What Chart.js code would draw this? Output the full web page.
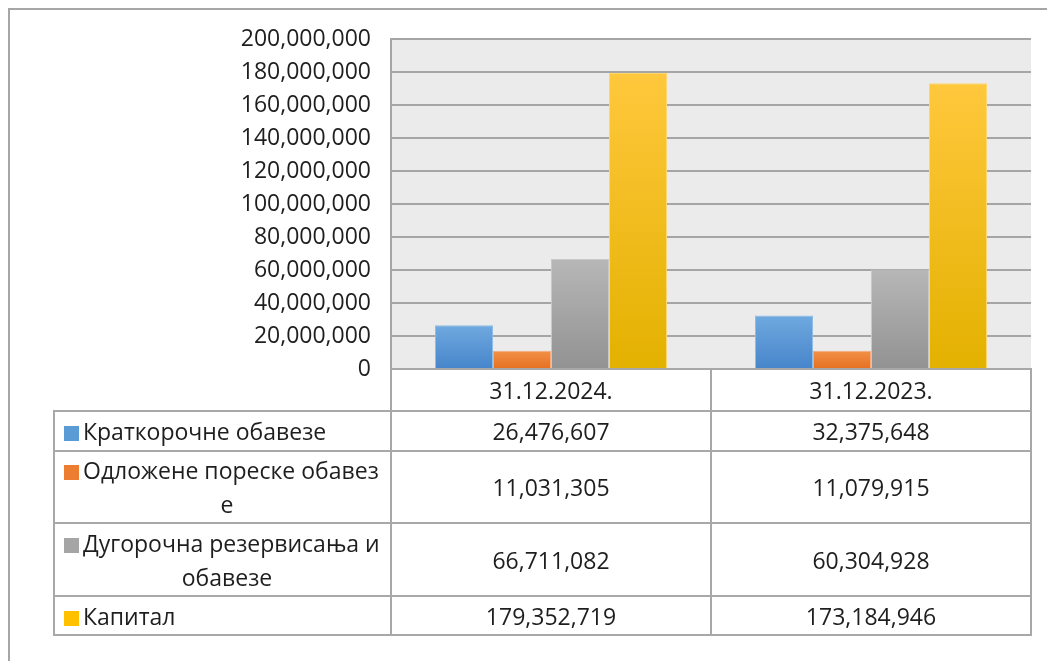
<!DOCTYPE html>
<html>
<head>
<meta charset="utf-8">
<script src="https://cdn.jsdelivr.net/npm/chart.js@4/dist/chart.umd.min.js"></script>
<style>
html,body{margin:0;padding:0;background:#fff;}
#wrap{position:relative;width:1047px;height:661px;overflow:hidden;font-family:"Open Sans",sans-serif;}
#frame{position:absolute;left:8px;top:8px;width:1100px;height:700px;border-left:2px solid #a6a6a6;border-top:2px solid #a6a6a6;box-sizing:border-box;}
#c{position:absolute;left:0;top:0;}
#tbl{position:absolute;border-collapse:collapse;table-layout:fixed;color:#1e1e1e;font-size:23px;}
#tbl td{border:2px solid #a8a8a8;padding:0;text-align:center;vertical-align:middle;white-space:nowrap;line-height:34px;}
#tbl td.empty{border-top:none;border-left:none;}
#tbl td.lab{text-align:left;padding-left:9px;}
#tbl .sw{display:inline-block;width:15px;height:15px;margin-right:4px;vertical-align:-1px;}
#tbl .l2{text-align:center;}
</style>
</head>
<body>
<div id="wrap">
  <div id="frame"></div>
  <canvas id="c" width="1047" height="661"></canvas>
  <table id="tbl"></table>
</div>
<script>
// ---- data ----
const categories = ['31.12.2024.', '31.12.2023.'];
const seriesNames = ['Краткорочне обавезе', 'Одложене пореске обавезе', 'Дугорочна резервисања и обавезе', 'Капитал'];
// how the series names wrap inside the data table
const seriesNameLines = [
  ['Краткорочне обавезе'],
  ['Одложене пореске обавез', 'е'],
  ['Дугорочна резервисања и', 'обавезе'],
  ['Капитал']
];
const shortTermLiabilities = [26476607, 32375648];
const deferredTaxLiabilities = [11031305, 11079915];
const longTermProvisions = [66711082, 60304928];
const capital = [179352719, 173184946];
const yMin = 0, yMax = 200000000, yStep = 20000000;

const seriesValues = [shortTermLiabilities, deferredTaxLiabilities, longTermProvisions, capital];
const baseColors = ['#5b9bd5', '#ed7d31', '#a5a5a5', '#ffc000'];
const topColors = ['#6fa9df', '#f39049', '#b7b7b7', '#ffc83d'];
const bottomColors = ['#4785cb', '#e4701f', '#929292', '#e3b100'];
const edgeColors = ['#8dbce6', '#f6ab7a', '#c8c8c8', '#ffd56e'];

function fmt(v){ return v.toLocaleString('en-US'); }

function gradient(top, bottom){
  return (ctx) => {
    const chart = ctx.chart;
    const y = chart.scales && chart.scales.y;
    if (!y || ctx.raw == null || !chart.chartArea) return bottom;
    const yt = y.getPixelForValue(ctx.raw), yb = y.getPixelForValue(0);
    const g = chart.ctx.createLinearGradient(0, yt, 0, yb);
    g.addColorStop(0, top);
    g.addColorStop(1, bottom);
    return g;
  };
}

const plotBg = {
  id: 'plotBg',
  beforeDraw(chart){
    const {ctx, chartArea: a} = chart;
    ctx.save();
    ctx.fillStyle = '#ebebeb';
    ctx.fillRect(a.left, a.top, a.right - a.left, a.bottom - a.top);
    ctx.restore();
  }
};

const chart = new Chart(document.getElementById('c'), {
  type: 'bar',
  data: {
    labels: categories,
    datasets: seriesNames.map((name, i) => ({
      label: name,
      data: seriesValues[i],
      backgroundColor: gradient(topColors[i], bottomColors[i]),
      borderColor: edgeColors[i],
      borderWidth: {top: 1, left: 1, right: 1, bottom: 0},
      categoryPercentage: 0.725,
      barPercentage: 1.0
    }))
  },
  plugins: [plotBg],
  options: {
    responsive: false,
    animation: false,
    devicePixelRatio: 1,
    layout: { padding: { left: 0, top: 39, right: 16, bottom: 292 } },
    plugins: { legend: { display: false }, tooltip: { enabled: false } },
    scales: {
      x: { display: false },
      y: {
        min: yMin, max: yMax,
        afterFit(scale){ scale.width = 391; },
        ticks: {
          stepSize: yStep,
          padding: 20,
          color: '#1e1e1e',
          font: { family: '"Open Sans", sans-serif', size: 23 },
          callback: (v) => fmt(v)
        },
        grid: { color: '#a5a5a5', lineWidth: 2, drawTicks: false },
        border: { display: true, color: '#a5a5a5', width: 2 }
      }
    }
  }
});

// ---- data table under the plot, aligned with the category scale ----
(function buildTable(){
  const area = chart.chartArea;
  const xs = chart.scales.x;
  const catW = (xs.right - xs.left) / categories.length;
  const labelLeft = 54;
  const tbl = document.getElementById('tbl');
  tbl.style.left = (labelLeft - 1) + 'px';
  tbl.style.top = (area.bottom - 1) + 'px';
  const rowHeights = [42, 40, 72, 73, 39];

  let html = '<colgroup><col style="width:' + (area.left - labelLeft) + 'px">';
  categories.forEach(() => { html += '<col style="width:' + catW + 'px">'; });
  html += '</colgroup>';
  html += '<tr style="height:' + rowHeights[0] + 'px"><td class="empty"></td>';
  categories.forEach(c => { html += '<td>' + c + '</td>'; });
  html += '</tr>';
  seriesNames.forEach((name, i) => {
    const lines = seriesNameLines[i];
    let lab = '<div><span class="sw" style="background:' + baseColors[i] + '"></span>' + lines[0] + '</div>';
    for (let k = 1; k < lines.length; k++) lab += '<div class="l2">' + lines[k] + '</div>';
    html += '<tr style="height:' + rowHeights[i + 1] + 'px"><td class="lab" title="' + name + '">' + lab + '</td>';
    seriesValues[i].forEach(v => { html += '<td>' + fmt(v) + '</td>'; });
    html += '</tr>';
  });
  tbl.innerHTML = html;
})();
</script>
</body>
</html>
